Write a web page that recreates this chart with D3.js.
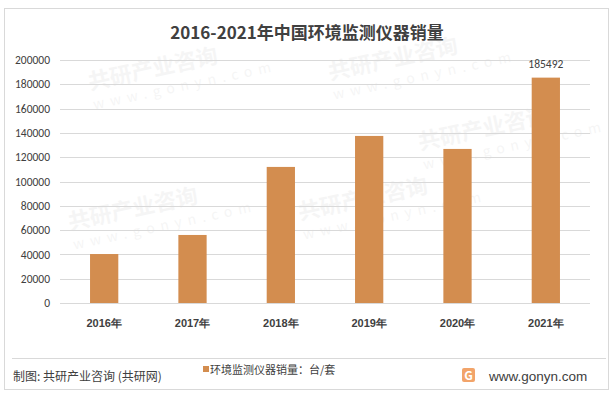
<!DOCTYPE html>
<html>
<head>
<meta charset="utf-8">
<script src="https://cdn.jsdelivr.net/npm/d3@7"></script>
<style>
  body { margin: 0; background: #fff; }
  svg { display: block; font-family: "Microsoft YaHei", "Noto Sans CJK SC", sans-serif; }
</style>
</head>
<body>
<svg id="chart" width="614" height="394"></svg>
<script>
var years = ['2016年', '2017年', '2018年', '2019年', '2020年', '2021年'];
var sales = [40300, 56000, 112000, 137500, 126800, 185492];
var yTicks = [0, 20000, 40000, 60000, 80000, 100000, 120000, 140000, 160000, 180000, 200000];
var labelled = ['2021年'];

var svg = d3.select('#chart');
var barColor = '#d38d4f';

// outer frame
svg.append('rect')
  .attr('x', 4.5).attr('y', 8.5)
  .attr('width', 604).attr('height', 381)
  .attr('fill', '#fff')
  .attr('stroke', '#d9d9d9');

// faint watermarks, kept inside the frame
var marks = [[90, 90], [330, 80], [70, 230], [300, 220], [420, 150]];
marks.forEach(function (m) {
  var g = svg.append('g')
    .attr('transform', 'translate(' + m[0] + ',' + m[1] + ') rotate(-12)')
    .attr('fill', '#000').attr('opacity', 0.035);
  g.append('text').attr('font-size', 22).attr('font-weight', 'bold').text('共研产业咨询');
  g.append('text').attr('y', 20).attr('font-size', 14).attr('letter-spacing', 6).text('www.gonyn.com');
});

var x = d3.scaleBand().domain(years).range([60, 590]).paddingInner(0.68).paddingOuter(0.34);
var y = d3.scaleLinear().domain([0, 200000]).range([303, 60]);

// title
svg.append('text')
  .attr('x', 307).attr('y', 39)
  .attr('text-anchor', 'middle')
  .attr('font-size', 17).attr('font-weight', 'bold')
  .attr('fill', '#404040')
  .text('2016-2021年中国环境监测仪器销量');

// grid
svg.append('g').selectAll('line').data(yTicks.slice(1)).enter().append('line')
  .attr('x1', 60).attr('x2', 590)
  .attr('y1', function (d) { return Math.round(y(d)) + 0.5; })
  .attr('y2', function (d) { return Math.round(y(d)) + 0.5; })
  .attr('stroke', '#d9d9d9');

// y axis labels
var yAxis = d3.axisLeft(y).tickValues(yTicks).tickFormat(d3.format('d')).tickSize(0).tickPadding(10);
svg.append('g')
  .attr('transform', 'translate(60,0)')
  .call(yAxis)
  .call(function (g) {
    g.select('.domain').remove();
    g.selectAll('text').attr('font-size', 11.5).attr('fill', '#404040').attr('font-family', 'Carlito, Calibri, "Liberation Sans", sans-serif');
  });

// bars
svg.append('g').selectAll('rect').data(sales).enter().append('rect')
  .attr('x', function (d, i) { return x(years[i]); })
  .attr('width', x.bandwidth())
  .attr('y', function (d) { return y(d); })
  .attr('height', function (d) { return y(0) - y(d); })
  .attr('fill', barColor);

// value label
svg.append('g').selectAll('text').data(sales.filter(function (d, i) { return labelled.indexOf(years[i]) >= 0; })).enter().append('text')
  .attr('x', x('2021年') + x.bandwidth() / 2)
  .attr('y', function (d) { return y(d) - 10; })
  .attr('text-anchor', 'middle')
  .attr('font-size', 11.5).attr('fill', '#404040')
  .attr('font-family', 'Carlito, Calibri, "Liberation Sans", sans-serif')
  .text(function (d) { return d; });

// baseline
svg.append('line')
  .attr('x1', 60).attr('x2', 590)
  .attr('y1', 303.5).attr('y2', 303.5)
  .attr('stroke', '#d9d9d9');

// x axis labels
var xAxis = d3.axisBottom(x).tickSize(0).tickPadding(16);
svg.append('g')
  .attr('transform', 'translate(0,303)')
  .call(xAxis)
  .call(function (g) {
    g.select('.domain').remove();
    g.selectAll('text').attr('font-size', 11).attr('font-weight', 'bold').attr('fill', '#404040');
  });

// footer separator
svg.append('line')
  .attr('x1', 12).attr('x2', 606)
  .attr('y1', 358.5).attr('y2', 358.5)
  .attr('stroke', '#d9d9d9');

svg.append('text')
  .attr('x', 13).attr('y', 381)
  .attr('font-size', 12).attr('fill', '#404040')
  .text('制图: 共研产业咨询 (共研网)');

// legend
svg.append('rect')
  .attr('x', 203).attr('y', 366).attr('width', 6).attr('height', 6)
  .attr('fill', barColor);
svg.append('text')
  .attr('x', 210).attr('y', 374)
  .attr('font-size', 11).attr('fill', '#404040')
  .text('环境监测仪器销量：台/套');

// logo + site
var logo = svg.append('g').attr('transform', 'translate(462,368)');
logo.append('rect').attr('width', 13).attr('height', 14).attr('rx', 2).attr('fill', '#f2a46a');
logo.append('text').attr('x', 6.5).attr('y', 11.5).attr('text-anchor', 'middle')
  .attr('font-size', 12).attr('font-weight', 'bold').attr('fill', '#fff').text('G');
svg.append('text')
  .attr('x', 489).attr('y', 381).attr('text-anchor', 'start')
  .attr('font-size', 13.5).attr('fill', '#404040')
  .attr('font-family', '"Liberation Sans", Arial, sans-serif')
  .text('www.gonyn.com');
</script>
</body>
</html>
